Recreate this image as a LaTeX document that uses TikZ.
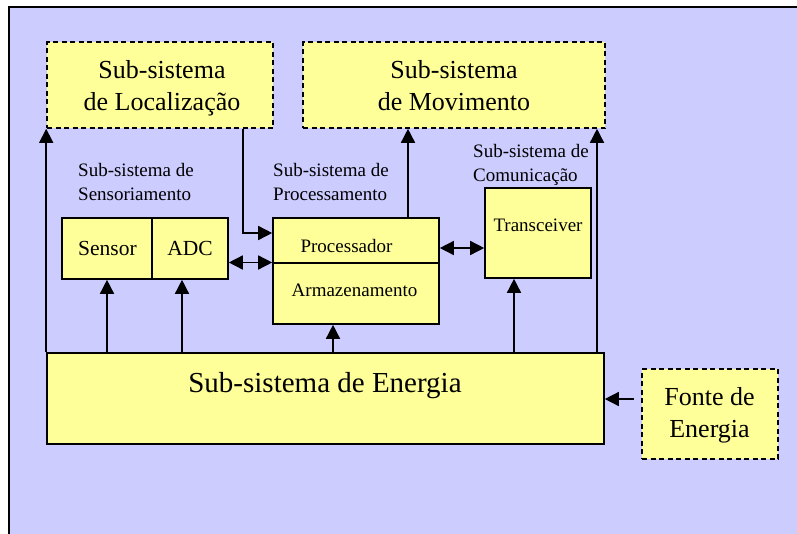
\documentclass[tikz,border=0pt]{standalone}
\usepackage{fontspec}
\setmainfont{Liberation Serif}
\usetikzlibrary{positioning,arrows.meta}
\definecolor{boxyellow}{HTML}{FFFF99}
\definecolor{bglilac}{HTML}{CCCCFF}

\begin{document}
\begin{tikzpicture}[x=1pt,y=-1pt,
    box/.style={draw=black,line width=1.6pt,fill=boxyellow,inner sep=0pt},
    dbox/.style={box,dash pattern=on 5pt off 3.5pt},
    arr/.style={draw=black,line width=1.5pt,-{Triangle[length=14pt,width=14pt]}},
    darr/.style={draw=black,line width=1.5pt,
        {Triangle[length=14pt,width=14pt]}-{Triangle[length=14pt,width=14pt]}},
    big/.style={font=\fontsize{26}{32}\selectfont,align=center,inner sep=0pt},
    huge/.style={font=\fontsize{29}{35}\selectfont,inner sep=0pt},
    mid/.style={font=\fontsize{19}{24}\selectfont,inner sep=0pt},
    sen/.style={font=\fontsize{21.5}{26}\selectfont,inner sep=0pt},
    lbl/.style={font=\fontsize{19}{24}\selectfont,align=left,inner sep=0pt}
  ]
  \useasboundingbox (0,0) rectangle (797,533);
  \fill[white] (0,0) rectangle (797,533);
  \draw[fill=bglilac,line width=1.3pt] (9,7) rectangle (820,560);
  %
  % external sub-systems
  \node[dbox,minimum width=226pt,minimum height=86pt] (loc) at (160,85) {};
  \node[big,anchor=base] (loctxt) at (162,110) {Sub-sistema\\de Localização};
  \node[dbox,minimum width=302pt,minimum height=86pt] (mov) at (454,85) {};
  \node[big,anchor=base] (movtxt) at (454,110) {Sub-sistema\\de Movimento};
  \node[dbox,minimum width=136pt,minimum height=90pt] (fonte) at (710,414) {};
  \node[big,anchor=base] (fontetxt) at (709.5,437) {Fonte de\\Energia};
  %
  % group labels
  \node[lbl,anchor=base west] (lblsens) at (78,200) {Sub-sistema de\\Sensoriamento};
  \node[lbl,anchor=base west] (lblproc) at (273,200) {Sub-sistema de\\Processamento};
  \node[lbl,anchor=base west] (lblcom) at (473,181) {Sub-sistema de\\Comunicação};
  %
  % inner blocks
  \node[box,minimum width=90pt,minimum height=61pt] (sensor) at (107,248.5) {};
  \node[sen,anchor=base] (sensortxt) at (107.5,255) {Sensor};
  \node[box,minimum width=76pt,minimum height=61pt] (adc) at (190,248.5) {};
  \node[sen,anchor=base] (adctxt) at (190,255) {ADC};
  \node[box,minimum width=166pt,minimum height=45pt] (proc) at (356,240.5) {};
  \node[mid,anchor=base] (proctxt) at (346.5,252) {Processador};
  \node[box,minimum width=166pt,minimum height=61pt] (armaz) at (356,293.5) {};
  \node[mid,anchor=base] (armaztxt) at (354.5,296) {Armazenamento};
  \node[box,minimum width=106pt,minimum height=90pt] (trans) at (538,233) {};
  \node[mid,anchor=base] (transtxt) at (538,231) {Transceiver};
  \node[box,minimum width=557pt,minimum height=91pt] (energia) at (325.5,398.5) {};
  \node[huge,anchor=base] (energiatxt) at (325,392) {Sub-sistema de Energia};
  %
  \coordinate (xa) at (182,0);
  \coordinate (xb) at (333,0);
  \coordinate (xc) at (514,0);
  \coordinate (xd) at (597,0);
  \coordinate (xe) at (243,0);
  \coordinate (xf) at (408,0);
  \coordinate (ya) at (0,233);
  \coordinate (yb) at (0,262.5);
  \coordinate (yc) at (0,248);
  \coordinate (yd) at (0,399);
  %
  % power lines
  \draw[arr] (energia.north west) -- (loc.south west);
  \draw[arr] (energia.north -| xd) -- (mov.south -| xd);
  \draw[arr] (energia.north -| sensor) -- (sensor.south);
  \draw[arr] (energia.north -| xa) -- (adc.south -| xa);
  \draw[arr] (energia.north -| xb) -- (armaz.south -| xb);
  \draw[arr] (energia.north -| xc) -- (trans.south -| xc);
  \draw[arr,shorten <=7pt] (fonte.west |- yd) -- (energia.east |- yd);
  %
  % data lines
  \draw[arr] (loc.south -| xe) |- (proc.west |- ya);
  \draw[arr] (proc.north -| xf) -- (mov.south -| xf);
  \draw[darr] (adc.east |- yb) -- (proc.west |- yb);
  \draw[darr] (proc.east |- yc) -- (trans.west |- yc);
  %
\end{tikzpicture}
\end{document}
